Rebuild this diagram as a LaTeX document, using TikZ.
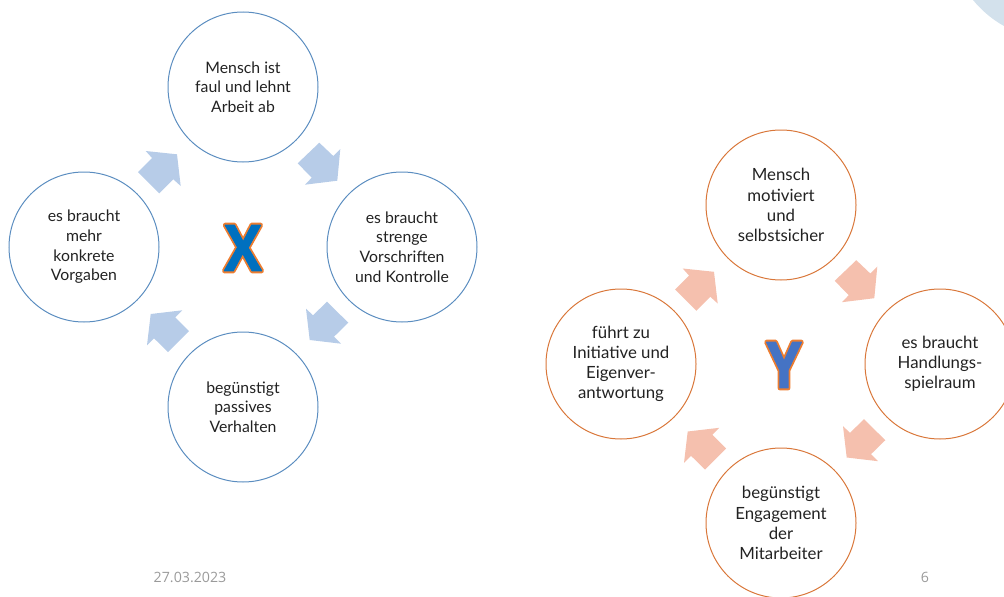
\documentclass[tikz,border=0pt]{standalone}
\usepackage{fontspec}
\usepackage{graphicx}
\setmainfont{Lato}
\newfontfamily\letterfont{Open Sans}
\newfontfamily\footfont{Open Sans}
\definecolor{xline}{HTML}{5B8DC0}
\definecolor{yline}{HTML}{D9773A}
\definecolor{xarrow}{HTML}{B7CCE8}
\definecolor{yarrow}{HTML}{F5C0AE}
\definecolor{corner}{HTML}{D3E1EC}
\definecolor{foot}{HTML}{9A9A9A}
\definecolor{txt}{HTML}{222222}
\newcommand{\fourarrows}[1]{%
 \fill[#1] (319.3,142.7)--(333.3,156)--(340.3,149)--(337.3,180.7)--(305,184.7)--(311.7,177.7)--(297.7,163.3)--cycle;
 \fill[#1] (177,154.3)--(145.7,151)--(152,158)--(138,172)--(159.3,193.3)--(173.3,179.3)--(180.7,186)--cycle;
 \fill[#1] (150.7,314)--(182.3,310.3)--(175.3,317.3)--(189,331)--(168,352)--(154,338.3)--(147,345.3)--cycle;
 \fill[#1] (309.7,340)--(306,308.7)--(313,315.3)--(327,301.7)--(348.3,322.7)--(334,336.7)--(341,343.7)--cycle;
}
\newcommand{\outlined}[2]{\scalebox{0.88}[1]{\rlap{\special{pdf:code q 2 Tr 5 w 1 j 1 J 0.93 0.49 0.19 RG 0.93 0.49 0.19 rg}#1\special{pdf:code Q}}{\special{pdf:code q 2 Tr 1 w 1 j 1 J #2 RG #2 rg}#1\special{pdf:code Q}}}}
\tikzset{
 x=1pt,y=-1pt,
 bub/.style={circle,draw,line width=1pt,minimum size=150pt,inner sep=0pt,align=center,text=txt},
 xbub/.style={bub,draw=xline,font=\fontsize{15.8}{19.7}\selectfont},
 ybub/.style={bub,draw=yline,font=\fontsize{16.8}{20.1}\selectfont},
 bigletter/.style={inner sep=0pt,font=\fontsize{64}{64}\selectfont\letterfont\bfseries},
 footer/.style={inner sep=0pt,font=\fontsize{14.2}{16}\selectfont\footfont,text=foot}
}
\begin{document}
\begin{tikzpicture}
\useasboundingbox (0,0) rectangle (1004,597);
\begin{scope}
\clip (0,0) rectangle (1004,597);
\fill[corner] (1004,26) -- (1004,0) -- (973,0) .. controls (982,11) and (993,20) .. (1004,26) -- cycle;
\node[xbub] (x1) at (243,87) {Mensch ist\\faul und lehnt\\Arbeit ab};
\node[xbub] (x2) at (402,247) {es braucht\\strenge\\Vorschriften\\und Kontrolle};
\node[xbub] (x3) at (243,407) {begünstigt\\passives\\Verhalten};
\node[xbub] (x4) at (84,247) {es braucht\\mehr\\konkrete\\Vorgaben};
\node[ybub] (y1) at (781,205) {Mensch\\motiviert\\und\\selbstsicher};
\node[ybub] (y2) at (940,364) {es braucht\\Handlungs-\\spielraum};
\node[ybub] (y3) at (781,523) {begünstigt\\Engagement\\der\\Mitarbeiter};
\node[ybub] (y4) at (621,364) {führt zu\\Initiative und\\Eigenver-\\antwortung};
\fourarrows{xarrow}
\begin{scope}[shift={(537,117.5)}]
\fourarrows{yarrow}
\end{scope}
\node[bigletter] (lx) at (243,248) {\outlined{X}{0 0.44 0.75}};
\node[bigletter] (ly) at (784,365) {\outlined{Y}{0.27 0.45 0.77}};
\node[footer] (date) at (190,577) {27.03.2023};
\node[footer] (page) at (925,577) {6};
\end{scope}
\end{tikzpicture}
\end{document}
